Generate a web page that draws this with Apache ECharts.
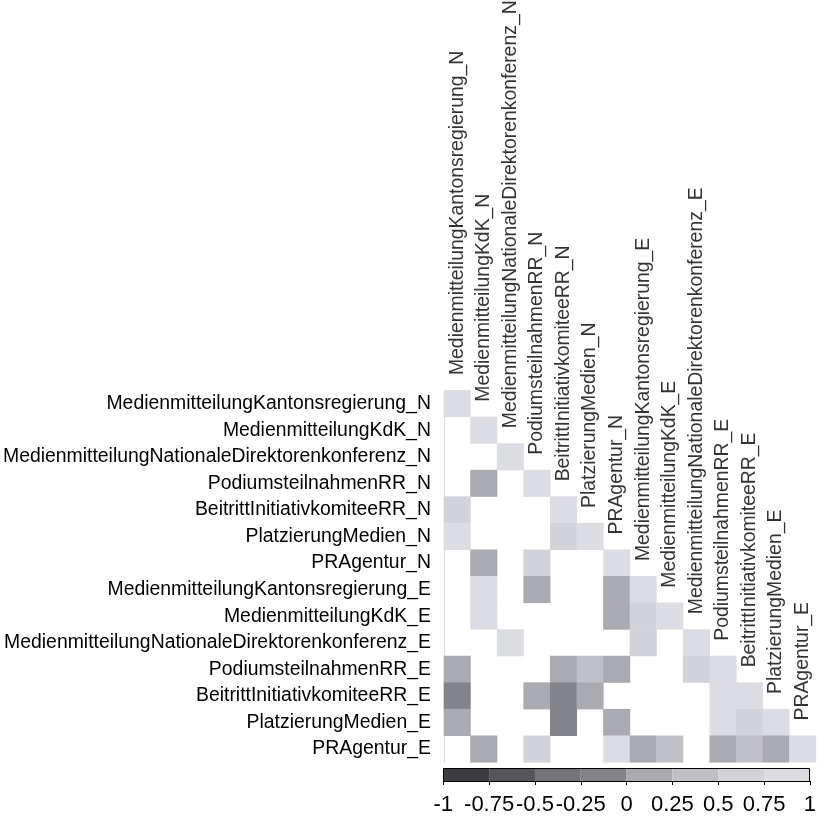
<!DOCTYPE html>
<html>
<head>
<meta charset="utf-8">
<script src="https://cdn.jsdelivr.net/npm/echarts@6/dist/echarts.min.js"></script>
<style>
html,body{margin:0;padding:0;background:#fff;}
#chart{width:819px;height:820px;}
</style>
</head>
<body>
<div id="chart"></div>
<script>
// Variable names (rows top->bottom, columns left->right)
const variables = [
  'MedienmitteilungKantonsregierung_N',
  'MedienmitteilungKdK_N',
  'MedienmitteilungNationaleDirektorenkonferenz_N',
  'PodiumsteilnahmenRR_N',
  'BeitrittInitiativkomiteeRR_N',
  'PlatzierungMedien_N',
  'PRAgentur_N',
  'MedienmitteilungKantonsregierung_E',
  'MedienmitteilungKdK_E',
  'MedienmitteilungNationaleDirektorenkonferenz_E',
  'PodiumsteilnahmenRR_E',
  'BeitrittInitiativkomiteeRR_E',
  'PlatzierungMedien_E',
  'PRAgentur_E'
];

// Lower-triangular correlation values (null = blank cell)
const corrRows = [
  [1],
  [null, 1],
  [null, null, 1],
  [null, 0.1, null, 1],
  [0.6, null, null, null, 1],
  [0.8, null, null, null, 0.6, 1],
  [null, 0.1, null, 0.6, null, null, 1],
  [null, 0.8, null, 0.1, null, null, 0.1, 1],
  [null, 0.8, null, null, null, null, 0.1, 0.6, 1],
  [null, null, 0.8, null, null, null, null, 0.6, null, 1],
  [0.1, null, null, null, 0.1, 0.3, 0.1, null, null, 0.6, 1],
  [-0.1, null, null, 0.1, -0.1, 0.1, null, null, null, null, 0.8, 1],
  [0.1, null, null, null, -0.1, null, 0.1, null, null, null, 0.8, 0.6, 1],
  [null, 0.1, null, 0.6, null, null, 0.8, 0.1, 0.3, null, 0.1, 0.3, 0.1, 1]
];

// Colour scale bins
const binEdges = [-1, -0.75, -0.5, -0.25, 0, 0.25, 0.5, 0.75, 1];
const binColors = ['#3c3c42', '#55565c', '#737479', '#838489', '#aaabb0', '#bfc0c5', '#d2d3d8', '#dcdde2'];
const legendTicks = ['-1', '-0.75', '-0.5', '-0.25', '0', '0.25', '0.5', '0.75', '1'];

const FONT = 'Liberation Sans, Arial, sans-serif';

const heatData = [];
corrRows.forEach((row, r) => {
  row.forEach((v, c) => {
    if (v !== null) heatData.push([c, r, v]);
  });
});
const diagData = variables.map((v, i) => [i, i]);

const pieces = binColors.map((col, i) => (i === binColors.length - 1)
  ? { gte: binEdges[i], lte: binEdges[i + 1], color: col }
  : { gte: binEdges[i], lt: binEdges[i + 1], color: col });

const legendData = binColors.map((col, i) => [binEdges[i], binEdges[i + 1], i]);
const legendFrame = [[binEdges[0], binEdges[binEdges.length - 1]]];

const chart = echarts.init(document.getElementById('chart'), null, { renderer: 'canvas' });

const option = {
  animation: false,
  backgroundColor: '#ffffff',
  textStyle: { fontFamily: FONT },
  grid: [
    { left: 443.5, top: 390.3, width: 372.5, height: 372, containLabel: false },
    { left: 443.3, top: 768.3, width: 371.4, height: 12.7 }
  ],
  xAxis: [
    { type: 'category', gridIndex: 0, data: variables, axisLine: { show: false }, axisTick: { show: false }, axisLabel: { show: false }, splitLine: { show: false } },
    { type: 'value', gridIndex: 1, min: -1, max: 1, interval: 0.25,
      axisLine: { show: true, lineStyle: { color: '#000', width: 1 } },
      axisTick: { show: true, length: 4, lineStyle: { color: '#000', width: 1 } },
      axisLabel: { fontSize: 22, color: '#000', fontFamily: FONT, margin: 13,
        formatter: (v) => { const s = legendTicks[Math.round((v + 1) / 0.25)]; return s === undefined ? '' : s; } },
      splitLine: { show: false } }
  ],
  yAxis: [
    { type: 'category', gridIndex: 0, data: variables, inverse: true,
      axisLine: { show: true, lineStyle: { color: '#dedede', width: 1 } },
      axisTick: { show: false },
      axisLabel: { fontSize: 19.4, color: '#000', fontFamily: FONT, margin: 13 },
      splitLine: { show: false } },
    { type: 'value', gridIndex: 1, min: 0, max: 1, show: false }
  ],
  visualMap: {
    type: 'piecewise', show: false, seriesIndex: 0, dimension: 2, pieces: pieces
  },
  series: [
    {
      type: 'heatmap', xAxisIndex: 0, yAxisIndex: 0, data: heatData,
      itemStyle: { borderWidth: 0 }, emphasis: { disabled: true }
    },
    {
      type: 'scatter', xAxisIndex: 0, yAxisIndex: 0, data: diagData,
      symbolSize: 1, itemStyle: { color: 'transparent' }, silent: true,
      label: {
        show: true, position: 'top', distance: 28, rotate: 90,
        align: 'left', verticalAlign: 'middle',
        fontSize: 19.4, color: '#000', fontFamily: FONT,
        formatter: (p) => variables[p.dataIndex]
      }
    },
    {
      type: 'custom', xAxisIndex: 1, yAxisIndex: 1, data: legendData, silent: true,
      renderItem: (params, api) => {
        const p0 = api.coord([api.value(0), 1]);
        const p1 = api.coord([api.value(1), 0]);
        return {
          type: 'rect',
          shape: { x: p0[0], y: p0[1], width: p1[0] - p0[0], height: p1[1] - p0[1] },
          style: { fill: binColors[api.value(2)] }
        };
      }
    },
    {
      type: 'custom', xAxisIndex: 1, yAxisIndex: 1, data: legendFrame, silent: true, z: 5,
      renderItem: (params, api) => {
        const p0 = api.coord([api.value(0), 1]);
        const p1 = api.coord([api.value(1), 0]);
        return {
          type: 'rect',
          shape: { x: Math.round(p0[0]) + 0.5, y: Math.round(p0[1]) + 0.5, width: Math.round(p1[0] - p0[0]) - 1, height: Math.round(p1[1] - p0[1]) },
          style: { fill: 'none', stroke: '#000', lineWidth: 1 }
        };
      }
    }
  ]
};
chart.setOption(option);
</script>
</body>
</html>
